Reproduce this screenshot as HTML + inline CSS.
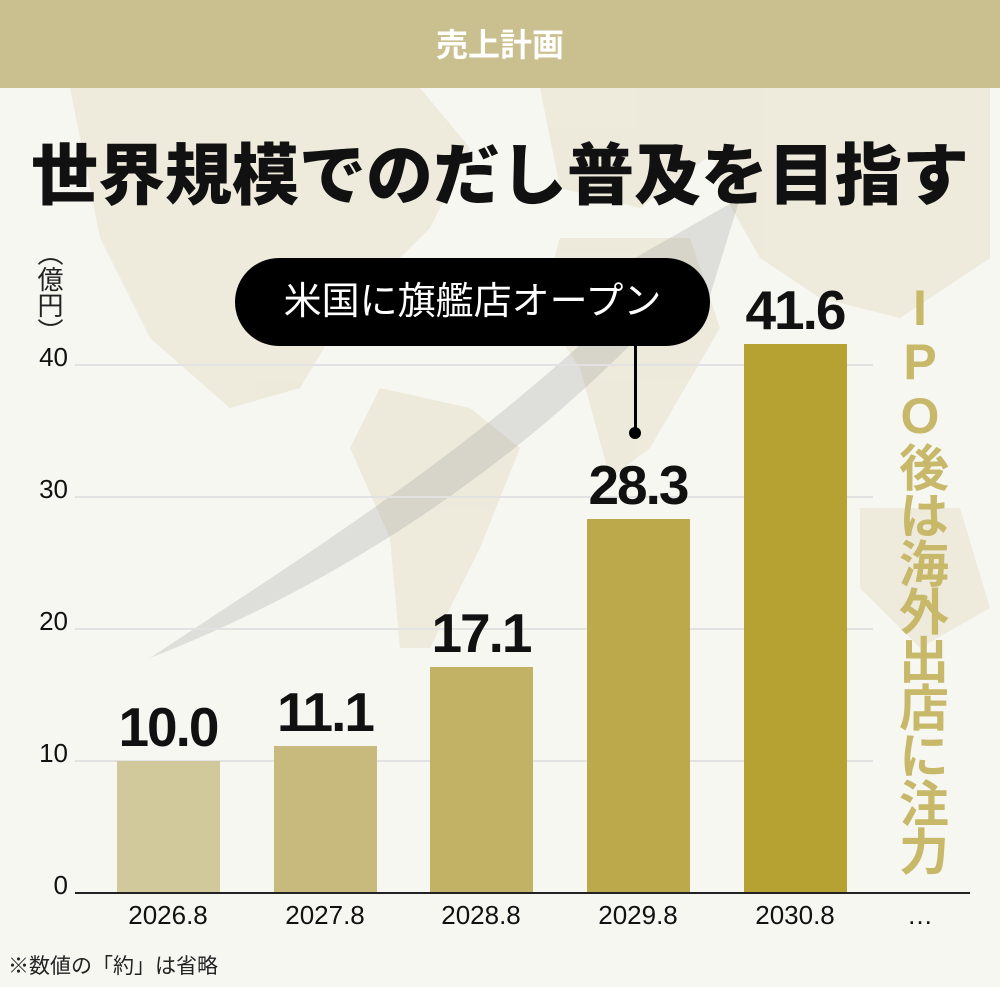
<!DOCTYPE html>
<html><head><meta charset="utf-8"><style>
body{margin:0;width:1000px;height:987px;background:#f7f7f2;position:relative;overflow:hidden;font-family:"Liberation Sans","Noto Sans CJK JP",sans-serif}
.abs{position:absolute}
.hdr{left:0;top:0;width:1000px;height:88px;background:#c9bf8f;color:#fff;font-size:32px;font-weight:bold;text-align:center;line-height:90px}
.title{left:0;width:1000px;top:122px;text-align:center;font-size:67px;font-weight:900;color:#111;letter-spacing:0px;white-space:nowrap}
.grid{left:75px;width:798px;height:2px;background:#e2e2e2}
.bar{width:103px}
.val{width:160px;text-align:center;font-size:55px;font-weight:bold;color:#111;letter-spacing:-2px}
.yl{left:10px;width:58px;text-align:right;font-size:26px;color:#111}
.xl{width:140px;text-align:center;font-size:26px;color:#111;top:900px}
</style></head><body>
<svg class="abs" style="left:0;top:88px" width="1000" height="899">
<g fill="#ebe6d6" opacity="0.8">
<path d="M70 0 L420 0 L470 60 L430 140 L380 190 L330 250 L300 300 L230 320 L150 250 L100 150 Z"/>
<path d="M380 300 L470 320 L520 360 L480 460 L430 560 L400 560 L390 450 L350 360 Z"/>
<path d="M540 0 L700 0 L720 60 L640 120 L560 100 Z"/>
<path d="M560 150 L690 150 L720 240 L650 360 L610 390 L580 280 L540 220 Z"/>
<path d="M700 0 L990 0 L990 170 L900 230 L820 210 L760 170 L720 100 Z"/>
<path d="M860 420 L960 420 L990 520 L920 560 L860 500 Z"/>
</g>
<path d="M150 570 C300 470 480 360 640 200 L600 190 L740 110 L700 240 L670 215 C520 380 330 500 150 570 Z" fill="#888" opacity="0.22"/>
</svg>
<div class="abs hdr">売上計画</div>
<div class="abs title">世界規模でのだし普及を目指す</div>
<div class="abs" style="left:32px;top:240px;width:34px;font-size:26px;color:#222;writing-mode:vertical-rl;line-height:34px">（億円）</div>
<div class="abs grid" style="top:364px"></div>
<div class="abs grid" style="top:496px"></div>
<div class="abs grid" style="top:628px"></div>
<div class="abs grid" style="top:760px"></div>
<div class="abs yl" style="top:342px">40</div>
<div class="abs yl" style="top:474px">30</div>
<div class="abs yl" style="top:606px">20</div>
<div class="abs yl" style="top:738px">10</div>
<div class="abs yl" style="top:870px">0</div>
<div class="abs bar" style="left:117px;top:761px;height:132px;background:#d1c89c"></div>
<div class="abs bar" style="left:274px;top:746px;height:147px;background:#c7ba7c"></div>
<div class="abs bar" style="left:430px;top:667px;height:226px;background:#c2b266"></div>
<div class="abs bar" style="left:587px;top:519px;height:374px;background:#bba94c"></div>
<div class="abs bar" style="left:744px;top:344px;height:549px;background:#b5a232"></div>
<div class="abs" style="left:75px;top:892px;width:895px;height:2px;background:#222"></div>
<div class="abs val" style="left:88px;top:695px">10.0</div>
<div class="abs val" style="left:245px;top:680px">11.1</div>
<div class="abs val" style="left:401px;top:601px">17.1</div>
<div class="abs val" style="left:558px;top:453px">28.3</div>
<div class="abs val" style="left:715px;top:278px">41.6</div>
<div class="abs xl" style="left:98px">2026.8</div>
<div class="abs xl" style="left:255px">2027.8</div>
<div class="abs xl" style="left:411px">2028.8</div>
<div class="abs xl" style="left:568px">2029.8</div>
<div class="abs xl" style="left:725px">2030.8</div>
<div class="abs xl" style="left:850px">…</div>
<div class="abs" style="left:8px;top:950px;font-size:21px;color:#222">※数値の「約」は省略</div>
<div class="abs" style="left:235px;top:258px;width:475px;height:88px;border-radius:44px;background:#000;color:#fff;font-size:38px;text-align:center;line-height:88px;white-space:nowrap">米国に旗艦店オープン</div>
<div class="abs" style="left:634px;top:345px;width:3px;height:87px;background:#000"></div>
<div class="abs" style="left:629px;top:427px;width:12px;height:12px;border-radius:50%;background:#000"></div>
<div class="abs" style="left:890px;top:280px;width:60px;font-size:50px;font-weight:bold;color:#c8b86a;writing-mode:vertical-rl;text-orientation:upright;line-height:60px;letter-spacing:-2px">IPO後は海外出店に注力</div>
</body></html>
